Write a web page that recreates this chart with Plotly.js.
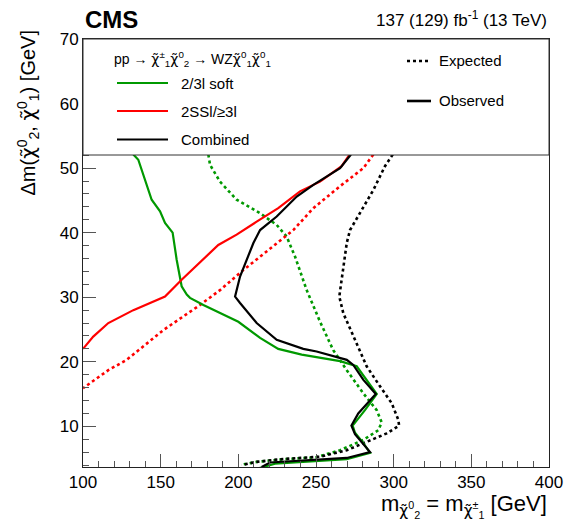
<!DOCTYPE html>
<html>
<head>
<meta charset="utf-8">
<script src="https://cdn.plot.ly/plotly-3.0.1.min.js"></script>
<style>html,body{margin:0;padding:0;background:#fff;}#chart{width:566px;height:528px;}</style>
</head>
<body>
<div id="chart"></div>
<script>
// 2/3l soft
const softObsM  = [132.4, 135.6, 144.2, 149.6, 152.8, 157.7, 160.3, 163.5, 166.8, 168.9, 177.5, 200.0, 214.0, 225.7, 240.8, 265.5, 276.2, 282.6, 289.1, 281.5, 273.6, 275.1, 280.5, 284.8, 269.8, 223.6, 213.0];
const softObsDm = [52.1, 51.3, 45.1, 43.3, 41.5, 40.0, 35.8, 31.7, 30.4, 29.9, 28.8, 26.2, 23.7, 22.0, 21.1, 20.1, 19.3, 17.2, 15.0, 12.5, 10.1, 9.0, 7.4, 5.9, 4.9, 4.2, 3.5];
const softExpM  = [180.7, 181.8, 188.2, 198.9, 214.0, 224.7, 231.1, 236.5, 244.0, 252.6, 261.1, 269.8, 280.5, 289.1, 292.3, 290.1, 280.5, 265.5, 250.0, 229.0, 212.0, 203.0];
const softExpDm = [52.1, 50.5, 47.9, 45.1, 43.0, 41.2, 39.4, 36.3, 31.1, 26.2, 21.8, 18.7, 15.1, 12.5, 10.6, 9.4, 7.9, 6.3, 5.2, 4.9, 4.5, 4.1];
// 2SSl / >=3l
const sslObsM  = [272.5, 270.8, 266.5, 252.6, 239.7, 225.7, 211.8, 198.9, 187.1, 168.9, 163.5, 152.8, 132.4, 116.3, 106.6, 100.0];
const sslObsDm = [52.3, 51.8, 50.3, 47.9, 46.4, 43.8, 41.7, 39.7, 38.1, 34.0, 32.7, 30.1, 28.0, 26.0, 23.9, 22.0];
const sslExpM  = [286.9, 280.5, 265.5, 248.3, 235.4, 222.5, 203.2, 188.2, 175.3, 151.7, 128.1, 116.3, 100.0];
const sslExpDm = [52.1, 50.0, 47.2, 43.8, 40.4, 37.9, 34.2, 31.1, 28.8, 24.9, 20.3, 18.7, 15.9];
// Combined
const combObsM  = [272.5, 265.5, 248.3, 237.6, 224.7, 214.0, 209.7, 201.1, 197.9, 201.1, 211.8, 224.7, 241.8, 250.4, 269.8, 274.0, 280.5, 288.5, 277.2, 272.8, 275.1, 284.8, 269.8, 220.4, 215.0];
const combObsDm = [52.1, 50.0, 47.4, 45.6, 42.5, 40.4, 38.4, 33.2, 30.1, 29.1, 26.0, 23.4, 22.0, 21.6, 20.3, 19.5, 17.2, 15.0, 12.0, 10.1, 8.8, 6.0, 5.1, 4.4, 3.7];
const combExpM  = [299.4, 294.4, 286.9, 278.3, 271.9, 269.8, 267.6, 265.0, 267.6, 274.0, 282.6, 291.2, 298.7, 303.0, 303.5, 295.5, 282.6, 269.8, 252.6, 226.8, 211.8, 202.2];
const combExpDm = [52.1, 50.3, 46.6, 43.0, 40.4, 38.4, 34.8, 30.1, 27.5, 23.9, 19.3, 16.2, 13.6, 11.0, 10.1, 8.9, 7.6, 6.3, 5.3, 4.9, 4.5, 4.0];

const seriesNames = ["2/3l soft", "2SSl/\u22653l", "Combined"];
const seriesColors = ["#009900", "#ff0000", "#000000"];
const styleNames = ["Expected", "Observed"];

const FONT = "Liberation Sans, Arial, Helvetica, sans-serif";
const CHI = '<span style="font-family:DejaVu Sans">\u03c7\u0303</span>';

function tr(x, y, color, dash) {
  return {x: x, y: y, type: "scatter", mode: "lines", showlegend: false, hoverinfo: "skip",
          line: {color: color, width: dash ? 2.6 : 2.2, dash: dash ? "dot" : "solid"}};
}
const data = [
  tr(softExpM, softExpDm, seriesColors[0], true),
  tr(sslExpM, sslExpDm, seriesColors[1], true),
  tr(combExpM, combExpDm, seriesColors[2], true),
  tr(softObsM, softObsDm, seriesColors[0], false),
  tr(sslObsM, sslObsDm, seriesColors[1], false),
  tr(combObsM, combObsDm, seriesColors[2], false)
];

// plot area in px: x 83..549, y 39..467
function px(x) { return (x - 83) / 466; }
function py(y) { return (467 - y) / 428; }

const shapes = [
  {type: "rect", xref: "paper", yref: "paper", x0: 0, x1: 1, y0: py(155), y1: 1,
   fillcolor: "#ffffff", line: {color: "#333", width: 1}, layer: "above"}
];
const legRows = [83, 111, 139.5];
const annotations = [];
for (let i = 0; i < 3; i++) {
  shapes.push({type: "line", xref: "paper", yref: "paper", x0: px(117), x1: px(168), y0: py(legRows[i]), y1: py(legRows[i]),
               line: {color: seriesColors[i], width: 2.2}, layer: "above"});
  annotations.push({xref: "paper", yref: "paper", x: px(179), y: py(legRows[i]), xanchor: "left", yanchor: "middle",
                    text: seriesNames[i], showarrow: false, font: {family: FONT, size: 15, color: "#000"}});
}
shapes.push({type: "line", xref: "paper", yref: "paper", x0: px(407), x1: px(431), y0: py(61), y1: py(61),
             line: {color: "#000", width: 2.6, dash: "dot"}, layer: "above"});
shapes.push({type: "line", xref: "paper", yref: "paper", x0: px(407), x1: px(431), y0: py(101), y1: py(101),
             line: {color: "#000", width: 2.6}, layer: "above"});
annotations.push({xref: "paper", yref: "paper", x: px(437), y: py(60), xanchor: "left", yanchor: "middle",
                  text: styleNames[0], showarrow: false, font: {family: FONT, size: 15, color: "#000"}});
annotations.push({xref: "paper", yref: "paper", x: px(437), y: py(101), xanchor: "left", yanchor: "middle",
                  text: styleNames[1], showarrow: false, font: {family: FONT, size: 15, color: "#000"}});
annotations.push({xref: "paper", yref: "paper", x: px(112), y: py(59), xanchor: "left", yanchor: "middle",
                  text: "pp \u2192 " + CHI + "<sup>\u00b1</sup><sub>1</sub>" + CHI + "<sup>0</sup><sub>2</sub> \u2192 WZ" + CHI + "<sup>0</sup><sub>1</sub>" + CHI + "<sup>0</sup><sub>1</sub>",
                  showarrow: false, font: {family: FONT, size: 14, color: "#000"}});
// CMS + lumi
annotations.push({xref: "paper", yref: "paper", x: px(83), y: py(19), xanchor: "left", yanchor: "middle",
                  text: "<b>CMS</b>", showarrow: false, font: {family: FONT, size: 24, color: "#000"}});
annotations.push({xref: "paper", yref: "paper", x: px(549), y: py(19), xanchor: "right", yanchor: "middle",
                  text: "137 (129) fb<sup>-1</sup> (13 TeV)", showarrow: false, font: {family: FONT, size: 17, color: "#000"}});
// axis titles
annotations.push({xref: "paper", yref: "paper", x: px(549), y: py(506), xanchor: "right", yanchor: "middle",
                  text: "m<sub>" + CHI + "<sup>0</sup><sub>2</sub></sub> = m<sub>" + CHI + "<sup>\u00b1</sup><sub>1</sub></sub> [GeV]",
                  showarrow: false, font: {family: FONT, size: 22, color: "#000"}});
annotations.push({xref: "paper", yref: "paper", x: px(28), y: py(29), xanchor: "center", yanchor: "top", textangle: -90,
                  text: "\u0394m(" + CHI + "<sup>0</sup><sub>2</sub>, " + CHI + "<sup>0</sup><sub>1</sub>) [GeV]",
                  showarrow: false, font: {family: FONT, size: 20, color: "#000"}});

const axisCommon = {
  showgrid: false, zeroline: false, showline: true, linecolor: "#222", linewidth: 1, mirror: true,
  ticks: "inside", ticklen: 13, tickwidth: 1, tickcolor: "#555",
  tickfont: {family: FONT, size: 17, color: "#000"}
};
const layout = {
  width: 566, height: 528,
  margin: {l: 83, r: 17, t: 39, b: 61, pad: 0},
  paper_bgcolor: "#fff", plot_bgcolor: "#fff",
  xaxis: Object.assign({}, axisCommon, {range: [100, 400], tick0: 100, dtick: 50,
     minor: {dtick: 10, ticks: "inside", ticklen: 6, tickcolor: "#555", showgrid: false}}),
  yaxis: Object.assign({}, axisCommon, {range: [3.7, 70], tick0: 0, dtick: 10,
     minor: {dtick: 2, ticks: "inside", ticklen: 6, tickcolor: "#555", showgrid: false}}),
  shapes: shapes,
  annotations: annotations
};
Plotly.newPlot("chart", data, layout, {staticPlot: true, displayModeBar: false});
</script>
</body>
</html>
